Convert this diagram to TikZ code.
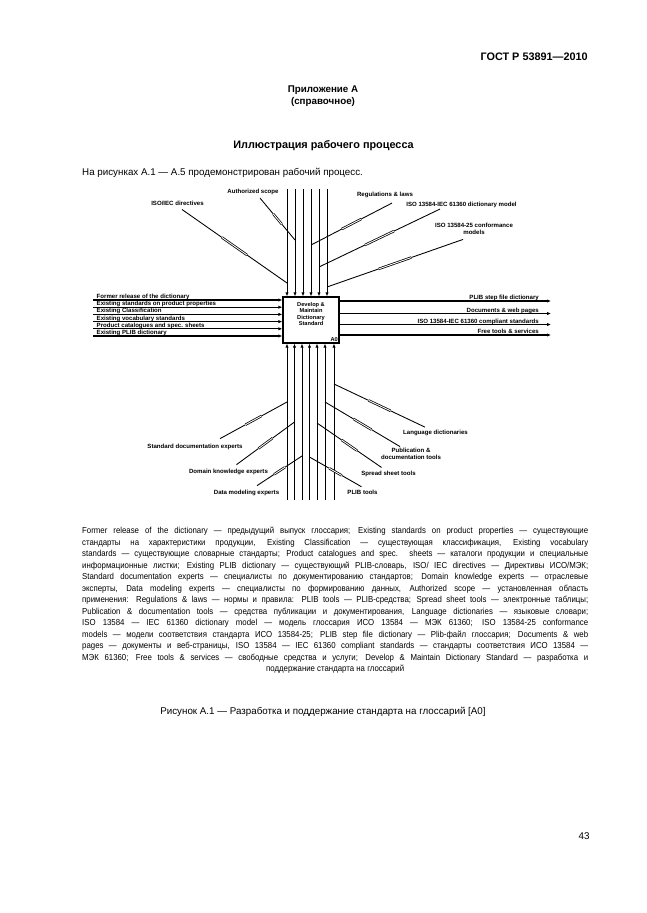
\documentclass[tikz,border=0pt]{standalone}
\usepackage{fontspec}
\setmainfont{Liberation Sans}
\newfontfamily\legendfont[FakeStretch=0.9]{Liberation Sans}
\usetikzlibrary{arrows.meta,positioning,calc}
\newcommand\legendrow[1]{\hbox to 465.5pt{#1}}
\tikzset{
  funcbox/.style={
    rectangle, draw, line width=1.2pt,
    minimum width=51.5pt, minimum height=42.3pt,
    inner sep=0pt
  },
  boxtext/.style={
    font=\fontsize{5.2}{6}\selectfont\bfseries, align=center, inner sep=0pt
  },
  flowarrow/.style={
    -{Latex[length=3.6pt,width=3pt]}, line width=#1
  },
  flowarrow/.default=0.8pt,
  feedline/.style={line width=0.8pt},
  tunnelmark/.style={
    line width=0.7pt, double, double distance=0.8pt
  },
  tinylabel/.style={
    font=\fontsize{5.6}{6.4}\selectfont\bfseries, inner sep=0pt, align=center
  },
  headtext/.style={font=\fontsize{10}{12}\selectfont\bfseries, inner sep=0pt},
  annextext/.style={font=\fontsize{9}{11}\selectfont\bfseries, inner sep=0pt},
  bodytext/.style={font=\fontsize{9}{11}\selectfont, inner sep=0pt},
  legendtext/.style={
    font=\legendfont\fontsize{8}{10.6}\selectfont, inner sep=0pt
  },
}

\begin{document}
\begin{tikzpicture}[x=0.92pt, y=-0.92pt]
  \fill[white] (0,0) rectangle (646,913);

  % Page heading
  \node[headtext, anchor=base east] (gost) at (588,60) {ГОСТ Р 53891—2010};
  \node[annextext] (annex) at (323,90) {Приложение А};
  \node[annextext, below=2.5pt of annex] (annexkind) {(справочное)};
  \node[headtext] (title) at (323.5,146) {Иллюстрация рабочего процесса};
  \node[bodytext, anchor=base west] (intro) at (82,175)
    {На рисунках А.1 — А.5 продемонстрирован рабочий процесс.};

  % Function box
  \node[funcbox] (dev) at (311,320) {};
  \node[boxtext] (devname) at (311,314) {Develop \&\\Maintain\\Dictionary\\Standard};
  \node[boxtext, anchor=south east, inner sep=1.5pt] (devnum) at (dev.south east) {A0};

  % Controls
  \foreach \x [count=\i] in {287,295,303,311,319,327} {
    \coordinate (ctop\i) at (\x,189);
    \draw[flowarrow] (ctop\i) -- (ctop\i |- dev.north);
  }
  \node[tinylabel] (isodir) at (177.5,203.5) {ISO/IEC directives};
  \node[tinylabel] (authscope) at (253,192) {Authorized scope};
  \node[tinylabel] (regs) at (385,195) {Regulations \& laws};
  \node[tinylabel] (dictmodel) at (461.5,205) {ISO 13584-IEC 61360 dictionary model};
  \node[tinylabel] (confmodels) at (474,228.5) {ISO 13584-25 conformance\\models};
  \coordinate (isodirfoot) at ([shift={(4.5,3.5)}]isodir.south);
  \coordinate (authfoot) at ([shift={(7,3)}]authscope.south);
  \coordinate (regsfoot) at ([shift={(7,5)}]regs.south);
  \coordinate (modelfoot) at ([shift={(-21.5,1)}]dictmodel.south);
  \coordinate (conffoot) at ([shift={(-11,5)}]confmodels.south);
  \coordinate (jtop1) at (287,283);
  \coordinate (jtop2) at (295,240);
  \coordinate (jtop4) at (311,245);
  \coordinate (jtop5) at (319,267);
  \coordinate (jtop6) at (327,287);

  % Inputs
  \foreach \y/\txt [count=\i] in {300/Former release of the dictionary,
      307.2/Existing standards on product properties,
      314.4/Existing Classification,
      321.6/Existing vocabulary standards,
      328.8/Product catalogues and spec. sheets,
      336/Existing PLIB dictionary} {
    \coordinate (inp\i) at (93,\y);
    \draw[flowarrow=1.1pt] (inp\i) -- (inp\i -| dev.west);
    \node[tinylabel, anchor=base west] (inlbl\i) at ([shift={(3.5,-1.5)}]inp\i) {\txt};
  }

  % Outputs
  \foreach \y/\txt [count=\i] in {301/PLIB step file dictionary,
      313.5/Documents \& web pages,
      324.5/ISO 13584-IEC 61360 compliant standards,
      335/Free tools \& services} {
    \coordinate (out\i) at (551,\y);
    \draw[flowarrow=1.1pt] (out\i -| dev.east) -- (out\i);
    \node[tinylabel, anchor=base east] (outlbl\i) at ([shift={(-12,-1.5)}]out\i) {\txt};
  }

  % Mechanisms
  \foreach \x [count=\i] in {287,294.5,302,309.5,317,325,334} {
    \coordinate (mbot\i) at (\x,500);
    \draw[flowarrow] (mbot\i) -- (mbot\i |- dev.south);
  }
  \node[tinylabel] (stddoc) at (195,446.7) {Standard documentation experts};
  \node[tinylabel] (domain) at (228.5,471.7) {Domain knowledge experts};
  \node[tinylabel] (datamod) at (246.5,492.7) {Data modeling experts};
  \node[tinylabel] (plibtools) at (362.5,492.7) {PLIB tools};
  \node[tinylabel] (spread) at (388.5,474) {Spread sheet tools};
  \node[tinylabel] (pubtools) at (411,454) {Publication \&\\documentation tools};
  \node[tinylabel] (langdict) at (435.5,432.7) {Language dictionaries};
  \coordinate (stddocfoot) at ([shift={(25,-5)}]stddoc.north);
  \coordinate (domainfoot) at ([shift={(8,-4)}]domain.north);
  \coordinate (datafoot) at ([shift={(10.5,-4)}]datamod.north);
  \coordinate (plibfoot) at ([shift={(-1,-3.5)}]plibtools.north);
  \coordinate (spreadfoot) at ([shift={(-7,-3.5)}]spread.north);
  \coordinate (pubfoot) at ([shift={(-11,-1.5)}]pubtools.north);
  \coordinate (langfoot) at ([shift={(-10.5,-2.5)}]langdict.north);
  \coordinate (jbot1) at (287,402);
  \coordinate (jbot2) at (294.5,422);
  \coordinate (jbot3) at (302,456);
  \coordinate (jbot4) at (309.5,457);
  \coordinate (jbot5) at (317,423);
  \coordinate (jbot6) at (325,402);
  \coordinate (jbot7) at (334,384);

  % Feeds from the labels
  \foreach \a/\b in {isodirfoot/jtop1, authfoot/jtop2, regsfoot/jtop4,
      modelfoot/jtop5, conffoot/jtop6, stddocfoot/jbot1, domainfoot/jbot2,
      datafoot/jbot3, plibfoot/jbot4, spreadfoot/jbot5, pubfoot/jbot6,
      langfoot/jbot7} {
    \draw[feedline] (\a) -- (\b);
    \draw[tunnelmark] ($(\a)!0.38!(\b)$) -- ($(\a)!0.62!(\b)$);
  }

  % Legend and caption
  \node[legendtext, anchor=north west] (legend) at (82,527) {\vbox{%
    \legendrow{Former release of the dictionary — предыдущий выпуск глоссария; Existing standards on product properties — существующие}
    \legendrow{стандарты на характеристики продукции, Existing Classification — существующая классификация, Existing vocabulary}
    \legendrow{standards — существующие словарные стандарты; Product catalogues and spec. sheets — каталоги продукции и специальные}
    \legendrow{информационные листки; Existing PLIB dictionary — существующий PLIB-словарь, ISO/ IEC directives — Директивы ИСО/МЭК;}
    \legendrow{Standard documentation experts — специалисты по документированию стандартов; Domain knowledge experts — отраслевые}
    \legendrow{эксперты, Data modeling experts — специалисты по формированию данных, Authorized scope — установленная область}
    \legendrow{применения: Regulations \& laws — нормы и правила: PLIB tools — PLIB-средства; Spread sheet tools — электронные таблицы;}
    \legendrow{Publication \& documentation tools — средства публикации и документирования, Language dictionaries — языковые словари;}
    \legendrow{ISO 13584 — IEC 61360 dictionary model — модель глоссария ИСО 13584 — МЭК 61360; ISO 13584-25 conformance}
    \legendrow{models — модели соответствия стандарта ИСО 13584-25; PLIB step file dictionary — Plib-файл глоссария; Documents \& web}
    \legendrow{pages — документы и веб-страницы, ISO 13584 — IEC 61360 compliant standards — стандарты соответствия ИСО 13584 —}
    \legendrow{МЭК 61360; Free tools \& services — свободные средства и услуги; Develop \& Maintain Dictionary Standard — разработка и}
    \legendrow{\hfil поддержание стандарта на глоссарий\hfil}}};
  \node[bodytext] (caption) at (323,712)
    {Рисунок А.1 — Разработка и поддержание стандарта на глоссарий [А0]};
  \node[bodytext] (pageno) at (584,836) {43};
\end{tikzpicture}
\end{document}
